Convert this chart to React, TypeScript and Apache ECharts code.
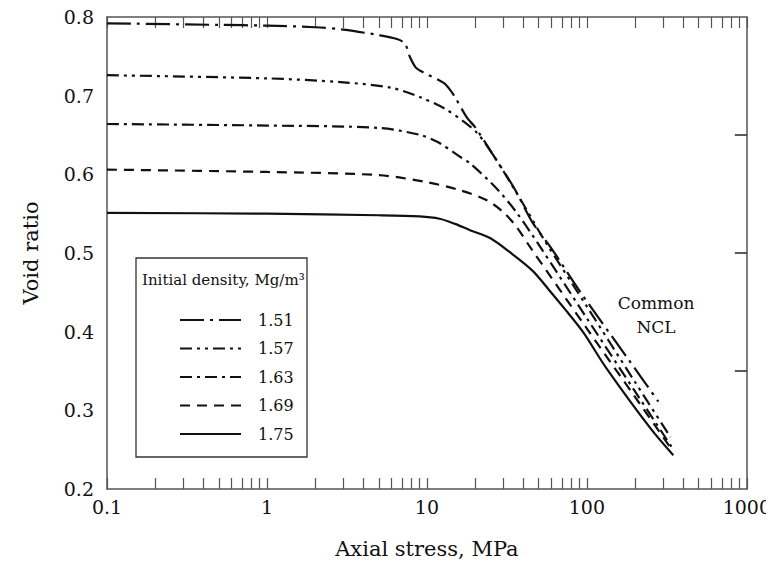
import React, { useEffect, useRef } from 'react';
import * as echarts from 'echarts';

const densityLabels = ['1.51', '1.57', '1.63', '1.69', '1.75'];

const stress151 = [0.1, 0.5, 1, 2, 3, 5, 6.5, 7.3, 7.8, 8.5, 9.4, 12.8, 14, 15, 17.8, 20, 25.5, 35, 46, 60, 92, 183, 280];
const void151 = [0.792, 0.790, 0.789, 0.787, 0.784, 0.777, 0.772, 0.766, 0.750, 0.736, 0.730, 0.716, 0.707, 0.698, 0.672, 0.660, 0.627, 0.583, 0.538, 0.506, 0.449, 0.364, 0.311];

const stress157 = [0.1, 1, 3, 6, 9.1, 12.8, 17, 20.5, 24, 30.5, 42, 54, 100, 200, 333];
const void157 = [0.726, 0.722, 0.717, 0.710, 0.698, 0.684, 0.667, 0.653, 0.635, 0.602, 0.555, 0.517, 0.432, 0.336, 0.266];

const stress163 = [0.1, 1, 5, 9.1, 11.7, 16.2, 18.6, 27, 36.5, 51, 100, 200, 340];
const void163 = [0.664, 0.662, 0.659, 0.650, 0.641, 0.622, 0.614, 0.583, 0.551, 0.508, 0.417, 0.324, 0.253];

const stress169 = [0.1, 1, 5, 10, 16, 23.7, 30, 36.4, 44, 100, 200, 340];
const void169 = [0.606, 0.603, 0.599, 0.590, 0.580, 0.567, 0.552, 0.533, 0.508, 0.404, 0.317, 0.250];

const stress175 = [0.1, 1, 5, 9, 12, 15, 18.6, 24.8, 33, 46, 58, 74, 95, 131, 250, 347];
const void175 = [0.551, 0.550, 0.548, 0.5465, 0.5435, 0.537, 0.529, 0.519, 0.501, 0.477, 0.453, 0.427, 0.399, 0.355, 0.277, 0.243];

const xMajorTicks = [0.1, 1, 10, 100, 1000];
const yTickValues = [0.2, 0.3, 0.4, 0.5, 0.6, 0.7, 0.8];
const rightTickValues = [0.35, 0.5, 0.65];

const FONT = 'DejaVu Serif';
const TXT = '#111';
const AX = '#555';

function logTicks(): number[] {
  const out: number[] = [];
  for (let d = 0.1; d < 1000; d *= 10) {
    for (let k = 1; k <= 9; k++) out.push(+(d * k).toPrecision(6));
  }
  out.push(1000);
  return out;
}

function zip(xs: number[], ys: number[]) {
  return xs.map((x, i) => [x, ys[i]]);
}

export default function App() {
  const ref = useRef<HTMLDivElement>(null);
  useEffect(() => {
    if (!ref.current) return;
    const chart = echarts.init(ref.current, undefined, { renderer: 'svg' });
    const allTicks = logTicks();
    const seriesData = [
      zip(stress151, void151),
      zip(stress157, void157),
      zip(stress163, void163),
      zip(stress169, void169),
      zip(stress175, void175),
    ];
    const dashes: any[] = [
      [24, 6, 3, 6],
      [12, 5, 3, 5, 3, 5],
      [12, 5, 3, 5],
      [10, 7],
      'solid',
    ];
    chart.setOption({
      animation: false,
      backgroundColor: '#fff',
      grid: { left: 107, right: 22, top: 17, bottom: 81 },
      xAxis: [
        {
          type: 'log',
          logBase: 10,
          min: 0.1,
          max: 1000,
          position: 'bottom',
          name: 'Axial stress, MPa',
          nameLocation: 'middle',
          nameGap: 49,
          nameTextStyle: { fontFamily: FONT, fontSize: 21, color: TXT },
          axisLine: { show: true, lineStyle: { color: AX, width: 1.5 } },
          axisTick: { show: true, inside: true, length: 11, customValues: allTicks, lineStyle: { color: AX, width: 1.2 } },
          axisLabel: { show: true, customValues: xMajorTicks, fontFamily: FONT, fontSize: 19, color: TXT, margin: 8, formatter: (v: number) => String(v) },
          splitLine: { show: false },
          minorTick: { show: false },
        },
        {
          type: 'log',
          logBase: 10,
          min: 0.1,
          max: 1000,
          position: 'top',
          axisLine: { show: true, lineStyle: { color: AX, width: 1.5 } },
          axisTick: { show: true, inside: true, length: 11, customValues: allTicks, lineStyle: { color: AX, width: 1.2 } },
          axisLabel: { show: false },
          splitLine: { show: false },
        },
      ],
      yAxis: [
        {
          type: 'value',
          min: 0.2,
          max: 0.8,
          interval: 0.1,
          position: 'left',
          name: 'Void ratio',
          nameLocation: 'middle',
          nameGap: 66,
          nameTextStyle: { fontFamily: FONT, fontSize: 21, color: TXT },
          axisLine: { show: true, lineStyle: { color: AX, width: 1.5 } },
          axisTick: { show: false },
          axisLabel: { show: true, customValues: yTickValues, fontFamily: FONT, fontSize: 19, color: TXT, margin: 13, formatter: (v: number) => v.toFixed(1) },
          splitLine: { show: false },
        },
        {
          type: 'value',
          min: 0.2,
          max: 0.8,
          interval: 0.1,
          position: 'right',
          axisLine: { show: true, lineStyle: { color: AX, width: 1.5 } },
          axisTick: { show: true, inside: true, length: 12, customValues: rightTickValues, lineStyle: { color: '#222', width: 1.5 } },
          axisLabel: { show: false },
          splitLine: { show: false },
        },
      ],
      legend: {
        orient: 'vertical',
        left: 174,
        top: 307,
        itemWidth: 61,
        itemHeight: 16,
        itemGap: 12.5,
        data: densityLabels,
        textStyle: { fontFamily: FONT, fontSize: 16, lineHeight: 16, color: TXT, padding: [0, 0, 0, 12] },
        itemStyle: { color: 'rgba(0,0,0,0)', borderWidth: 0, opacity: 0 },
      },
      graphic: [
        {
          type: 'rect',
          shape: { x: 136, y: 258, width: 171, height: 199 },
          style: { fill: 'rgba(0,0,0,0)', stroke: '#333', lineWidth: 1.3 },
          z: 10,
          silent: true,
        },
        {
          type: 'text',
          x: 142,
          y: 280,
          style: { text: 'Initial density, Mg/m³', fontFamily: FONT, fontSize: 15, fill: TXT, verticalAlign: 'middle' },
          z: 10,
        },
        {
          type: 'text',
          x: 656,
          y: 315,
          style: { text: 'Common\nNCL', fontFamily: FONT, fontSize: 17, lineHeight: 24, fill: TXT, align: 'center', verticalAlign: 'middle' },
          z: 10,
        },
      ],
      series: seriesData.map((d, i) => ({
        name: densityLabels[i],
        type: 'line',
        xAxisIndex: 0,
        yAxisIndex: 0,
        data: d,
        symbol: 'none',
        smooth: 0.3,
        color: '#111',
        lineStyle: { color: '#111', width: 2.2, type: dashes[i] },
        z: 3,
      })),
    });
    return () => chart.dispose();
  }, []);
  return <div ref={ref} style={{ width: 774, height: 570, margin: '-8px' }} />;
}
